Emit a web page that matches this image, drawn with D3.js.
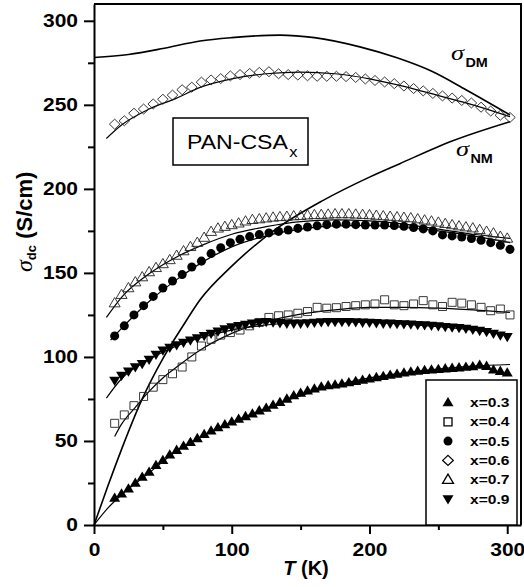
<!DOCTYPE html>
<html>
<head>
<meta charset="utf-8">
<script src="https://cdn.jsdelivr.net/npm/d3@7"></script>
<style>
  body { margin: 0; background: #fff; }
  text { font-family: "Liberation Sans", Arial, sans-serif; fill: #000; }
</style>
</head>
<body>
<svg id="chart" width="524" height="587"></svg>
<script>
// temperatures (K)
const T5 = [15,20,25,30,35,40,45,50,55,60,65,70,75,80,85,90,95,100,105,110,115,120,125,130,135,140,145,150,
  155,160,165,170,175,180,185,190,195,200,205,210,215,220,225,230,235,240,245,250,255,260,265,270,275,280,285,290,295,300];
const T7 = [15,22,29,36,43,50,57,64,71,78,85,92,99,106,113,120,127,134,141,148,155,162,169,176,183,190,197,204,
  211,218,225,232,239,246,253,260,267,274,281,288,295,302];

// sigma_dc (S/cm) for each x
const sig03 = [16,18.5,21.5,25,28.5,31.5,35.5,38.5,41.8,44.5,47,49.2,51.5,54,56,58,59.8,61.4,63,64.6,
  66.2,68,69.6,71.3,73,75,77,78.5,79.8,81,82.2,83,83.4,84,84.8,85.5,86.2,87,87.8,88.5,
  89.2,89.8,90.5,91.1,91.6,92,92.3,92.6,93,93.3,93.6,94,94.3,95.2,94.5,92.3,91.5,90.6];
const sig04 = [60.5,65.5,71,76.5,82,86.5,90,94,100,106.5,110.5,113,114.5,116,118.5,120.5,123.5,124.5,125,126,
  127,129.5,129,129.3,130,130.5,131,131.5,134,131,130.5,131.5,133.5,131,130,132.5,132,131,129.5,127.5,128.5,125];
const sig05 = [112.5,118.5,125,130.5,136,141,145.2,149,153.5,157,161.5,165,168,170,171.6,172.8,173.8,174.7,175.5,176.5,
  177.3,178,178.7,179,179,178.7,178.5,178.5,178.5,178.2,177.7,177,176.2,175,172.6,172,171.4,170.5,169.4,168,166.4,164];
const sig06 = [238.5,240.5,245,247.5,250.5,253.3,255.8,259,260.5,263.5,264.8,265.6,267.2,268,268.7,269.3,269.7,268.5,268,267.7,
  267.3,267,267,267,266.8,266.3,265.4,264.5,263.6,262.6,261.2,259.7,258.3,256.8,255.3,254,252.6,251.1,248.6,246.3,243.8,242.5];
const sig07 = [132,137,141,144.5,147.5,150.5,153,155.3,157.7,160.3,163,165.5,168,171,174.5,176.5,177.5,178.5,179.5,180.7,
  181.6,182,182.5,183,183.3,183.5,183.8,184,184.3,184.5,184.6,184.8,185,185,185,184.8,184.6,184.4,184.1,183.8,
  183.5,183.2,182.9,182.6,182,181.3,180.7,180,179.2,178.5,177.8,177.2,176.6,175.6,174.6,173.6,171.6,170.5];
const sig09 = [86,89,91.5,94,96,98.5,101.5,104,105.6,107.2,108.6,110,111.3,112.6,114,115.3,116.6,117.8,118.6,119.4,
  120,120.5,121,120.7,120.3,120,120,120,120.2,120.5,120.8,121,121,121,121,120.8,120.6,120.5,120.3,120,
  120,119.8,119.7,119.5,119.2,119,118.7,118.4,118,117.7,117.4,117,116.4,115.7,115,114,113,112];

// fitted curves [T, sigma]
const fit03 = [[0,0],[10,10],[20,18],[40,31],[60,44],[80,53.5],[100,61],[125,69.5],[150,77],[175,83],[200,87.5],[225,90.5],[250,92.8],[275,94.5],[302,95.5]];
const fit04 = [[15,52.7],[20,60],[30,70],[40,79.5],[50,87.5],[60,94],[75,103],[100,114],[125,121],[150,125.5],[175,128],[200,129.5],[225,129.5],[250,129],[275,128],[302,126.5]];
const fit05 = [[12,110],[20,117],[40,133],[60,146],[80,157],[100,165.5],[125,172],[150,176],[175,178],[200,178.3],[225,177],[250,175],[275,172],[302,168]];
const fit06 = [[9,230],[20,238],[40,247.5],[60,254],[77,260.4],[100,265.5],[125,268.5],[150,269.5],[175,268.5],[200,265.5],[225,261],[250,255.5],[275,250],[302,243]];
const fit07 = [[9,123.5],[20,135.5],[40,149.5],[60,159.5],[80,167],[100,173],[125,177.5],[150,180.5],[175,181.5],[200,181],[225,179],[250,176],[275,173],[302,170.5]];
const fit09 = [[9,75.5],[20,87],[40,98.5],[60,106.5],[80,112],[100,116],[125,119],[150,120.5],[175,121],[200,120.5],[225,119.5],[250,118],[275,116],[302,113]];
const sigmaDM = [[0,278.2],[25,280],[50,283.5],[77,288],[100,290],[135,291.5],[160,290],[193,284.5],[220,278],[246,269.7],[270,259],[302,244]];
const sigmaNM = [[0,0],[10,23],[20,45],[35,75],[50,99],[65,119],[77,134],[100,154],[132,176],[166,193],[200,207],[222,215],[260,228.5],[302,240]];

const xMajor = [0,100,200,300];
const xMinor = [50,150,250];
const yMajor = [0,50,100,150,200,250,300];
const yMinor = [25,75,125,175,225,275];

const labels = ["x=0.3","x=0.4","x=0.5","x=0.6","x=0.7","x=0.9"];
const shapes = ["triUp","square","circle","diamond","triUp","triDown"];
const filled = [true,false,true,false,false,true];

const series = [
  {t: T5, s: sig03, fit: fit03},
  {t: T7, s: sig04, fit: fit04},
  {t: T7, s: sig05, fit: fit05},
  {t: T7, s: sig06, fit: fit06},
  {t: T5, s: sig07, fit: fit07},
  {t: T5, s: sig09, fit: fit09}
].map((d, i) => Object.assign(d, {label: labels[i], shape: shapes[i], filled: filled[i]}));

const SX = 1.2; // the original is a bit stretched sideways

const svg = d3.select("#chart");
const x = d3.scaleLinear().domain([0, 310]).range([94, 521]);
const y = d3.scaleLinear().domain([0, 310]).range([525, 4]);

function symbolPath(kind) {
  if (kind === "triUp") return "M0,-5.6L5.5,3.7L-5.5,3.7Z";
  if (kind === "triDown") return "M0,5.6L5.5,-3.7L-5.5,-3.7Z";
  if (kind === "square") return "M-4,-4H4V4H-4Z";
  if (kind === "diamond") return "M0,-5L5.3,0L0,5L-5.3,0Z";
  return d3.symbol(d3.symbolCircle, 64)();
}

const line = d3.line().x(d => x(d[0])).y(d => y(d[1])).curve(d3.curveMonotoneX);

// fitted lines
svg.append("g").selectAll("path")
  .data(series)
  .join("path")
  .attr("d", d => line(d.fit))
  .attr("fill", "none")
  .attr("stroke", "#000")
  .attr("stroke-width", 1.2);

svg.append("g").selectAll("path")
  .data([sigmaDM, sigmaNM])
  .join("path")
  .attr("d", d => line(d))
  .attr("fill", "none")
  .attr("stroke", "#000")
  .attr("stroke-width", 1.6);

// data points
series.forEach(sr => {
  const pts = sr.t.map((t, i) => [t, sr.s[i]]);
  svg.append("g").selectAll("path")
    .data(pts)
    .join("path")
    .attr("transform", d => `translate(${x(d[0])},${y(d[1])})`)
    .attr("d", symbolPath(sr.shape))
    .attr("fill", sr.filled ? "#000" : "none")
    .attr("stroke", sr.filled ? "none" : "#222")
    .attr("stroke-width", 0.9);
});

// axes
const yAx = svg.append("g")
  .attr("transform", `translate(${x(0)},0)`)
  .call(d3.axisLeft(y).tickValues(yMajor).tickSize(10).tickSizeOuter(0).tickPadding(6));
svg.append("g")
  .attr("transform", `translate(${x(0)},0)`)
  .call(d3.axisLeft(y).tickValues(yMinor).tickSize(6).tickSizeOuter(0).tickFormat(""))
  .call(g => g.select(".domain").remove());
const xAx = svg.append("g")
  .attr("transform", `translate(0,${y(0)})`)
  .call(d3.axisBottom(x).tickValues(xMajor).tickSize(9).tickSizeOuter(0).tickPadding(10));
svg.append("g")
  .attr("transform", `translate(0,${y(0)})`)
  .call(d3.axisBottom(x).tickValues(xMinor).tickSize(5).tickSizeOuter(0).tickFormat(""))
  .call(g => g.select(".domain").remove());

svg.selectAll(".domain, .tick line").attr("stroke", "#000").attr("stroke-width", 2);
[yAx, xAx].forEach(ax => {
  ax.selectAll(".tick text")
    .style("font-size", "17.5px")
    .style("font-weight", "bold")
    .attr("fill", "#000")
    .attr("x", function () { return (+d3.select(this).attr("x") || 0) / SX; })
    .attr("transform", `scale(${SX},1)`);
});

// top and right frame
svg.append("path")
  .attr("d", `M${x(0)},${y(310)}H${x(310)}V${y(0)}`)
  .attr("fill", "none")
  .attr("stroke", "#000")
  .attr("stroke-width", 2);

// axis titles
const yl = svg.append("text")
  .attr("transform", "translate(32,272) rotate(-90)")
  .attr("text-anchor", "start");
yl.append("tspan").text("σ")
  .style("font-family", "'Liberation Serif', serif").style("font-style", "italic").style("font-size", "24px");
yl.append("tspan").text("dc").attr("dy", 4)
  .style("font-weight", "bold").style("font-size", "13px");
yl.append("tspan").text(" (S/cm)").attr("dy", -4)
  .style("font-weight", "bold").style("font-size", "22px");

const xl = svg.append("text")
  .attr("transform", "translate(306,575)")
  .attr("text-anchor", "middle")
  .style("font-size", "20px").style("font-weight", "bold");
xl.append("tspan").text("T").style("font-style", "italic");
xl.append("tspan").text(" (K)");

// sigma_DM / sigma_NM labels
function sigmaLabel(px, py, sub) {
  const g = svg.append("g").attr("transform", `translate(${px},${py}) scale(${SX},1)`);
  g.append("text").text("σ")
    .style("font-family", "'Liberation Serif', serif").style("font-style", "italic").style("font-size", "22px");
  g.append("text").text(sub).attr("x", 12).attr("y", 7)
    .style("font-weight", "bold").style("font-size", "12px");
}
sigmaLabel(451, 60, "DM");
sigmaLabel(456, 156, "NM");

// PAN-CSA_x box
svg.append("rect")
  .attr("x", 173).attr("y", 118).attr("width", 135).attr("height", 47)
  .attr("fill", "#fff").attr("stroke", "#000").attr("stroke-width", 1.5);
const pg = svg.append("g").attr("transform", `translate(187,148.5) scale(1.1,1)`);
pg.append("text").text("PAN-CSA").style("font-size", "21px");
pg.append("text").text("x").attr("x", 93).attr("y", 8).style("font-size", "15px");

// legend
svg.append("rect")
  .attr("x", 426).attr("y", 380).attr("width", 91).attr("height", y(0) - 380)
  .attr("fill", "#fff").attr("stroke", "#000").attr("stroke-width", 1.5);
const lg = svg.append("g").selectAll("g")
  .data(series)
  .join("g")
  .attr("transform", (d, i) => `translate(448,${402.5 + i * 19.3})`);
lg.append("path")
  .attr("d", d => symbolPath(d.shape))
  .attr("fill", d => d.filled ? "#000" : "#fff")
  .attr("stroke", d => d.filled ? "none" : "#000")
  .attr("stroke-width", 1.3);
lg.append("text")
  .attr("transform", `translate(22,4.5) scale(${SX},1)`)
  .style("font-size", "13px").style("font-weight", "bold")
  .text(d => d.label);
</script>
</body>
</html>
